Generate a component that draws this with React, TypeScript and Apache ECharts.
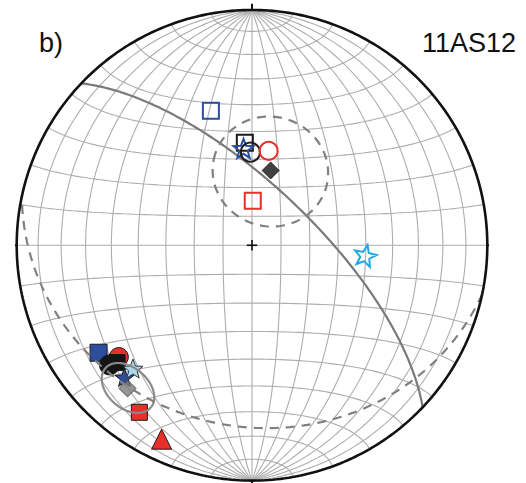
import { useEffect, useRef } from "react";
import * as echarts from "echarts";

// ---- labels ----
const panelLabel = "b)";
const siteLabel = "11AS12";

// ---- individual directions (declination, inclination; negative inc = upper hemisphere) ----
const markerNames = [
  "blueOpenSquare",
  "blackOpenSquare",
  "blueOpenStar",
  "blackOpenCircle",
  "redOpenCircle",
  "redOpenSquare",
  "cyanOpenStar",
  "blueSquare",
  "redCircle",
  "blackSquare",
  "blackCircle",
  "blueStar",
  "lightBlueStar",
  "redSquare",
  "redTriangle",
];
const markerDec = [343, 356, 355, 359, 10, 1, 95, 235, 230, 229, 230, 224, 224, 214, 205];
const markerInc = [-40, -54, -56, -57.5, -56.5, -74.6, -50, 21.5, 27, 25, 22, 23, 28, 15.5, 10];

// ---- mean directions with alpha95 ----
const meanNames = ["blackDiamond", "grayDiamond"];
const meanDec = [14, 221];
const meanInc = [63.2, 20.5];
const meanA95 = [19.5, 8.5];

// ---- planes (great circles): dip direction, dip ----
const planeNames = ["solidPlane", "dashedPlane"];
const planeDipDir = [43.5, 192];
const planeDip = [69.5, 24];

// ---- net graticule step (degrees) ----
const netStep = 10;

// ---- layout ----
const CX = 252;
const CY = 245.3;
const R = 235.3;

const STAR =
  "path://M0,-10 L2.469,-3.398 L9.511,-3.09 L3.994,1.298 L5.878,8.09 L0,4.2 L-5.878,8.09 L-3.994,1.298 L-9.511,-3.09 L-2.469,-3.398 Z";

const RED = "#e8302a";
const BLUE = "#2d4e9c";

type MS = { symbol: string; size: number; color: string; border: string; bw: number; rot?: number };
const markerStyle: Record<string, MS> = {
  blueOpenSquare: { symbol: "rect", size: 16, color: "none", border: BLUE, bw: 2 },
  blackOpenSquare: { symbol: "rect", size: 16, color: "none", border: "#1a1a1a", bw: 2 },
  blueOpenStar: { symbol: STAR, size: 20, color: "none", border: BLUE, bw: 2 },
  blackOpenCircle: { symbol: "circle", size: 19, color: "none", border: "#1a1a1a", bw: 2 },
  redOpenCircle: { symbol: "circle", size: 18, color: "none", border: RED, bw: 2 },
  redOpenSquare: { symbol: "rect", size: 16, color: "none", border: RED, bw: 2 },
  cyanOpenStar: { symbol: STAR, size: 22, color: "none", border: "#1ba8e4", bw: 2, rot: -12 },
  blueSquare: { symbol: "rect", size: 17, color: BLUE, border: "#1a1a1a", bw: 1 },
  redCircle: { symbol: "circle", size: 19, color: RED, border: "#1a1a1a", bw: 1 },
  blackSquare: { symbol: "rect", size: 16, color: "#151515", border: "#151515", bw: 1 },
  blackCircle: { symbol: "circle", size: 20, color: "#151515", border: "#151515", bw: 1 },
  blueStar: { symbol: STAR, size: 19, color: BLUE, border: "#1a1a1a", bw: 1 },
  lightBlueStar: { symbol: STAR, size: 20, color: "#a9d7ec", border: "#333333", bw: 1 },
  redSquare: { symbol: "rect", size: 16, color: RED, border: "#1a1a1a", bw: 1 },
  redTriangle: { symbol: "triangle", size: 20, color: RED, border: "#1a1a1a", bw: 1 },
  blackDiamond: { symbol: "diamond", size: 17, color: "#111111", border: "#111111", bw: 1 },
  grayDiamond: { symbol: "diamond", size: 17, color: "#7a7a7a", border: "#333333", bw: 1 },
};
const meanCircleStyle: Record<string, { color: string; width: number; type: any; z: number }> = {
  blackDiamond: { color: "#808080", width: 2.2, type: [9, 7], z: 4 },
  grayDiamond: { color: "#8a8a8a", width: 2.2, type: "solid", z: 4 },
};
const planeStyle: Record<string, { color: string; width: number; type: any; z: number }> = {
  solidPlane: { color: "#7a7a7a", width: 2.2, type: "solid", z: 2 },
  dashedPlane: { color: "#808080", width: 2.2, type: [9, 7], z: 4 },
};

const D2R = Math.PI / 180;
type V3 = [number, number, number];

function vec(dec: number, inc: number): V3 {
  const d = dec * D2R;
  const i = inc * D2R;
  return [Math.cos(i) * Math.cos(d), Math.cos(i) * Math.sin(d), Math.sin(i)];
}
// equal-area (Schmidt) projection, unit primitive; upper-hemisphere points plotted with |inc|
function proj(v: V3): [number, number] {
  const n = v[0];
  const e = v[1];
  const dn = Math.abs(v[2]);
  const k = 1 / Math.sqrt(1 + dn);
  return [e * k, n * k];
}
function cross(a: V3, b: V3): V3 {
  return [a[1] * b[2] - a[2] * b[1], a[2] * b[0] - a[0] * b[2], a[0] * b[1] - a[1] * b[0]];
}
function norm(a: V3): V3 {
  const l = Math.hypot(a[0], a[1], a[2]);
  return [a[0] / l, a[1] / l, a[2] / l];
}
function smallCircle(dec: number, inc: number, a: number) {
  const v = vec(dec, inc);
  const u = norm(cross(v, [0, 0, 1]));
  const w = cross(v, u);
  const ca = Math.cos(a * D2R);
  const sa = Math.sin(a * D2R);
  const pts: [number, number][] = [];
  for (let t = 0; t <= 360; t += 3) {
    const c = Math.cos(t * D2R);
    const s = Math.sin(t * D2R);
    pts.push(
      proj([
        ca * v[0] + sa * (c * u[0] + s * w[0]),
        ca * v[1] + sa * (c * u[1] + s * w[1]),
        ca * v[2] + sa * (c * u[2] + s * w[2]),
      ])
    );
  }
  return pts;
}
function greatCircle(dipDir: number, dip: number) {
  const s: V3 = [Math.cos((dipDir - 90) * D2R), Math.sin((dipDir - 90) * D2R), 0];
  const d = vec(dipDir, dip);
  const pts: [number, number][] = [];
  for (let t = 0; t <= 180; t += 1) {
    const c = Math.cos(t * D2R);
    const sn = Math.sin(t * D2R);
    pts.push(proj([c * s[0] + sn * d[0], c * s[1] + sn * d[1], c * s[2] + sn * d[2]]));
  }
  return pts;
}
function coneAboutNorth(a: number) {
  const pts: [number, number][] = [];
  const ca = Math.cos(a * D2R);
  const sa = Math.sin(a * D2R);
  for (let s = 0; s <= 180; s += 2) {
    pts.push(proj([ca, sa * Math.cos(s * D2R), sa * Math.sin(s * D2R)]));
  }
  return pts;
}

function lineSeries(data: number[][], color: string, width: number, type: any, z: number) {
  return {
    type: "line",
    data,
    symbol: "none",
    showSymbol: false,
    silent: true,
    clip: false,
    z,
    lineStyle: { color, width, type, cap: "butt" },
    emphasis: { disabled: true },
  };
}

function buildOption() {
  const series: any[] = [];
  const NET = "#adadad";
  // meridians (great circles through N and S)
  for (let dip = netStep; dip <= 90; dip += netStep) {
    series.push(lineSeries(greatCircle(90, dip), NET, 1.1, "solid", 1));
    if (dip < 90) series.push(lineSeries(greatCircle(270, dip), NET, 1.1, "solid", 1));
  }
  // small circles about the N-S axis
  for (let a = netStep; a < 180; a += netStep) {
    series.push(lineSeries(coneAboutNorth(a), NET, 1.1, "solid", 1));
  }
  // primitive
  const prim: number[][] = [];
  for (let t = 0; t <= 360; t += 1) prim.push([Math.sin(t * D2R), Math.cos(t * D2R)]);
  series.push(lineSeries(prim, "#111111", 2.6, "solid", 6));
  // ticks and center cross
  const ticks = [
    [[0, 1], [0, 1.027]],
    [[0, -1], [0, -1.012]],
    [[1, 0], [1.025, 0]],
    [[-1, 0], [-1.022, 0]],
  ];
  ticks.forEach((t) => series.push(lineSeries(t, "#111111", 2, "solid", 6)));
  series.push(lineSeries([[-0.022, 0], [0.022, 0]], "#111111", 1.6, "solid", 6));
  series.push(lineSeries([[0, -0.022], [0, 0.022]], "#111111", 1.6, "solid", 6));

  // markers
  markerNames.forEach((name, i) => {
    const st = markerStyle[name];
    series.push({
      type: "scatter",
      name,
      data: [proj(vec(markerDec[i], markerInc[i]))],
      symbol: st.symbol,
      symbolSize: st.size,
      symbolRotate: st.rot || 0,
      symbolKeepAspect: true,
      silent: true,
      z: 3,
      itemStyle: { color: st.color, borderColor: st.border, borderWidth: st.bw, opacity: 1 },
    });
  });
  meanNames.forEach((name, i) => {
    const st = markerStyle[name];
    series.push({
      type: "scatter",
      name,
      data: [proj(vec(meanDec[i], meanInc[i]))],
      symbol: st.symbol,
      symbolSize: st.size,
      silent: true,
      z: 3,
      itemStyle: { color: st.color, borderColor: st.border, borderWidth: st.bw },
    });
    const cs = meanCircleStyle[name];
    series.push(lineSeries(smallCircle(meanDec[i], meanInc[i], meanA95[i]), cs.color, cs.width, cs.type, cs.z));
  });
  planeNames.forEach((name, i) => {
    const ps = planeStyle[name];
    series.push(lineSeries(greatCircle(planeDipDir[i], planeDip[i]), ps.color, ps.width, ps.type, ps.z));
  });

  const font = "'Liberation Sans', Arial, Helvetica, sans-serif";
  return {
    animation: false,
    backgroundColor: "#ffffff",
    grid: { left: CX - R, top: CY - R, width: 2 * R, height: 2 * R, containLabel: false },
    xAxis: { type: "value", min: -1, max: 1, show: false },
    yAxis: { type: "value", min: -1, max: 1, show: false },
    tooltip: { show: false },
    graphic: [
      {
        type: "text",
        x: 39,
        y: 43,
        style: { text: panelLabel, fontSize: 27, fontFamily: font, fill: "#111111", align: "left", verticalAlign: "middle" },
      },
      {
        type: "text",
        x: 516,
        y: 43,
        style: { text: siteLabel, fontSize: 27, fontFamily: font, fill: "#111111", align: "right", verticalAlign: "middle" },
      },
    ],
    series,
  };
}

export default function App() {
  const ref = useRef<HTMLDivElement>(null);
  useEffect(() => {
    document.body.style.margin = "0";
    document.body.style.overflow = "hidden";
    const chart = echarts.init(ref.current!, null, { renderer: "svg" });
    chart.setOption(buildOption() as any);
    return () => chart.dispose();
  }, []);
  return <div ref={ref} style={{ width: 526, height: 483 }} />;
}
